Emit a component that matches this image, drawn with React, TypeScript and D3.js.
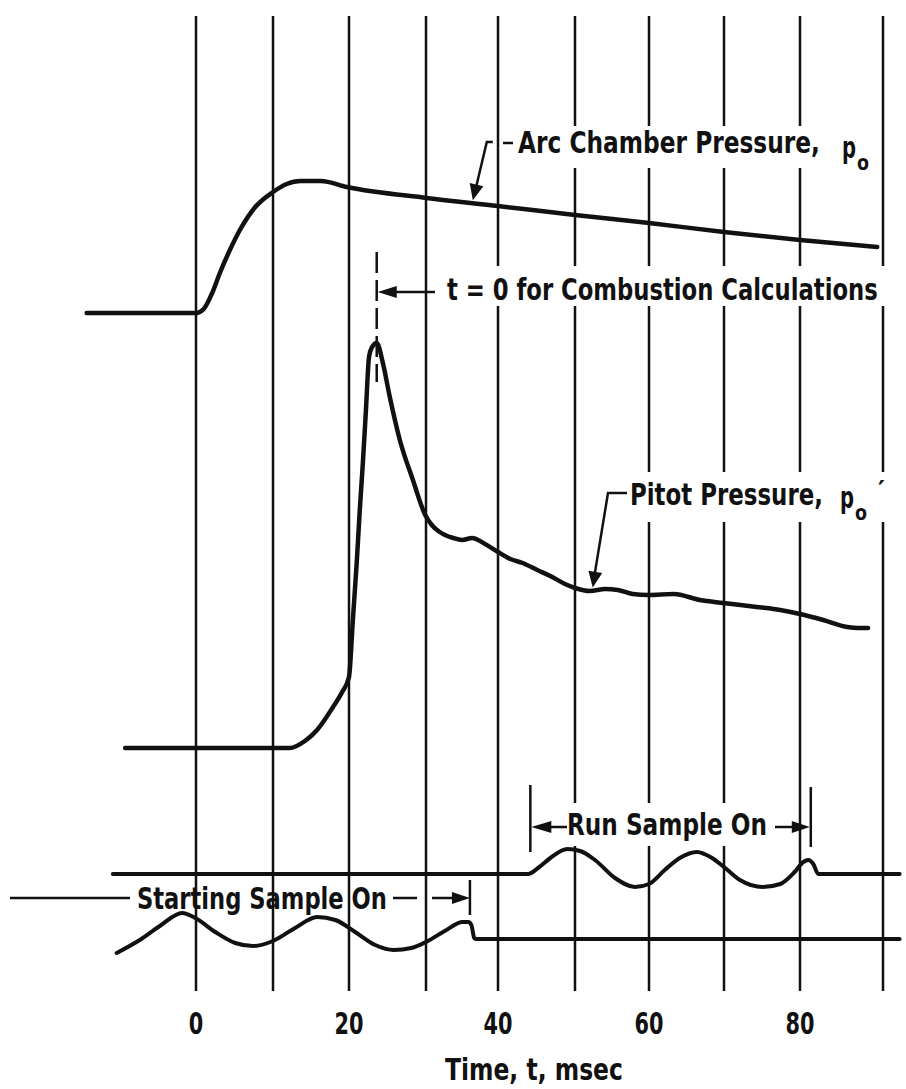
import React, { useLayoutEffect, useRef, useState } from 'react';
import * as d3 from 'd3';

// ---- data (t in msec, signal in relative trace units) ----
const gridTicks = [0, 10, 20, 30, 40, 50, 60, 70, 80, 90];
const tickLabels = [0, 20, 40, 60, 80];
const axisTitle = 'Time, t, msec';

const arcChamber: [number, number][] = [
  [-14.2, 68.7], [0, 68.7], [1.0, 69.1], [2.1, 70.7], [3.1, 72.7], [4.4, 75.0],
  [5.7, 77.0], [7.7, 79.3], [10.0, 80.8], [11.8, 81.6], [13.6, 81.9], [16.3, 81.9],
  [19.7, 81.3], [30.1, 80.2], [40.0, 79.4], [50.0, 78.5], [60.0, 77.7], [70.0, 76.8],
  [80.0, 76.0], [89.3, 75.3],
];

const pitot: [number, number][] = [
  [-9.2, 25.2], [12.2, 25.2], [14.2, 25.9], [15.8, 27.0], [17.9, 29.3], [19.1, 30.8],
  [20.0, 32.3], [20.5, 38.0], [21.0, 43.7], [21.4, 49.0], [21.8, 53.7], [22.2, 59.0],
  [22.6, 64.3], [23.0, 65.3], [23.6, 65.7], [24.4, 63.7], [25.3, 60.3], [26.6, 56.0],
  [28.3, 52.0], [29.9, 48.5], [30.8, 47.5], [31.9, 46.8], [33.8, 46.2], [35.0, 46.0],
  [36.4, 46.2], [38.2, 45.6], [40.0, 44.8], [41.6, 44.1], [43.2, 43.7], [45.1, 43.0],
  [46.8, 42.4], [48.7, 41.6], [50.0, 41.2], [52.0, 40.9], [54.1, 41.1], [55.8, 41.0],
  [57.8, 40.6], [59.9, 40.5], [63.3, 40.6], [66.8, 40.0], [69.9, 39.7], [74.3, 39.3],
  [77.4, 39.0], [80.0, 38.6], [82.8, 38.0], [85.7, 37.3], [87.0, 37.2], [88.2, 37.2],
];

const runSample: [number, number][] = [
  [-10.8, 12.6], [43.9, 12.6], [45.2, 13.2], [46.8, 14.2], [49.0, 15.1], [50.7, 14.9],
  [52.7, 14.0], [55.4, 12.2], [58.1, 11.3], [60.0, 11.6], [62.1, 13.0], [64.1, 14.2],
  [66.4, 14.8], [68.4, 14.2], [70.0, 13.3], [72.1, 12.0], [75.1, 11.3], [77.4, 11.6],
  [79.3, 12.8], [80.4, 13.8], [81.0, 14.0], [81.6, 13.6], [82.2, 12.6], [92.0, 12.6],
];

const startingSample: [number, number][] = [
  [-10.3, 4.7], [-7.3, 6.0], [-4.7, 7.4], [-1.8, 8.7], [-0.1, 8.2], [2.5, 6.8],
  [5.1, 5.7], [7.4, 5.4], [10.0, 5.9], [12.9, 7.2], [15.8, 8.3], [18.2, 8.0],
  [20.8, 6.8], [23.4, 5.5], [25.8, 5.0], [28.1, 5.2], [30.0, 5.8], [32.6, 6.9],
  [35.1, 7.8], [35.9, 7.8], [36.3, 7.5], [36.7, 6.2], [36.9, 6.1], [92.0, 6.1],
];

const combustionZeroT = 23.6;
const startingSampleEndT = 36.1;
const runSampleStartT = 44.2;
const runSampleEndT = 81.3;
const arcArrowT = 36.5;
const pitotArrowT = 52.4;

const FONT = "'Liberation Sans Narrow', 'DejaVu Sans Condensed', 'Roboto Condensed', 'DejaVu Sans', sans-serif";
const INK = '#111';

function valueAt(series: [number, number][], t: number) {
  const i = d3.bisector((d: [number, number]) => d[0]).right(series, t);
  const a = series[Math.max(0, i - 1)];
  const b = series[Math.min(series.length - 1, i)];
  if (a[0] === b[0]) return a[1];
  return a[1] + ((b[1] - a[1]) * (t - a[0])) / (b[0] - a[0]);
}

function head(tx: number, ty: number, fx: number, fy: number, len: number, half: number) {
  const dx = tx - fx, dy = ty - fy;
  const L = Math.hypot(dx, dy) || 1;
  const ux = dx / L, uy = dy / L;
  const bx = tx - ux * len, by = ty - uy * len;
  return `${tx},${ty} ${bx - uy * half},${by + ux * half} ${bx + uy * half},${by - ux * half}`;
}

// Text squeezed horizontally to a measured width (condensed lettering).
function Label(p: { x: number; y: number; w: number; size: number; children: string }) {
  const ref = useRef<SVGTextElement>(null);
  const [sx, setSx] = useState(1);
  useLayoutEffect(() => {
    if (ref.current) {
      const n = ref.current.getComputedTextLength();
      if (n > 0) setSx(p.w / n);
    }
  }, [p.w, p.size, p.children]);
  return (
    <text ref={ref} transform={`translate(${p.x},${p.y}) scale(${sx},1)`} fontSize={p.size}
      fontFamily={FONT} fontWeight="bold" fill={INK}>{p.children}</text>
  );
}

export default function App() {
  const W = 906, H = 1089;
  const x = d3.scaleLinear().domain(gridTicks).range([196, 273, 349, 426, 498, 575, 649, 724, 800, 883]);
  const y = d3.scaleLinear().domain([0, 100]).range([1000, 0]);
  const line = d3.line<[number, number]>().x(d => x(d[0])).y(d => y(d[1])).curve(d3.curveMonotoneX);

  const arcTipX = x(arcArrowT), arcTipY = y(valueAt(arcChamber, arcArrowT)) - 3;
  const pitTipX = x(pitotArrowT), pitTipY = y(valueAt(pitot, pitotArrowT)) - 3;
  const t0x = x(combustionZeroT);
  const sx = x(startingSampleEndT);
  const rx0 = x(runSampleStartT), rx1 = x(runSampleEndT);

  return (
    <svg width={W} height={H} viewBox={`0 0 ${W} ${H}`}
      style={{ position: 'absolute', left: 0, top: 0, background: '#fff' }}>
      <rect x={0} y={0} width={W} height={H} fill="#fff" />
      {/* grid */}
      {gridTicks.map(t => (
        <line key={t} x1={x(t)} x2={x(t)} y1={16} y2={991} stroke={INK} strokeWidth={2.5} />
      ))}
      {/* white label backgrounds that interrupt the grid */}
      <rect x={500} y={126} width={372} height={42} fill="#fff" />
      <rect x={442} y={266} width={444} height={40} fill="#fff" />
      <rect x={604} y={472} width={288} height={50} fill="#fff" />
      <rect x={565} y={803} width={205} height={43} fill="#fff" />

      {/* traces */}
      <path d={line(arcChamber) || ''} fill="none" stroke={INK} strokeWidth={4.5} strokeLinejoin="round" strokeLinecap="round" />
      <path d={line(pitot) || ''} fill="none" stroke={INK} strokeWidth={4.5} strokeLinejoin="round" strokeLinecap="round" />
      <path d={line(runSample) || ''} fill="none" stroke={INK} strokeWidth={4} strokeLinejoin="round" strokeLinecap="round" />
      <path d={line(startingSample) || ''} fill="none" stroke={INK} strokeWidth={4} strokeLinejoin="round" strokeLinecap="round" />

      {/* arc chamber label */}
      <polyline points={`${arcTipX + 20},142 ${arcTipX + 14},142 ${arcTipX + 3},${arcTipY - 12}`} fill="none" stroke={INK} strokeWidth={2.5} />
      <polygon points={head(arcTipX, arcTipY, arcTipX + 14, 142, 16, 7)} fill={INK} />
      <line x1={503} x2={513} y1={143} y2={143} stroke={INK} strokeWidth={2.5} />
      <Label x={518} y={153} w={302} size={30}>Arc Chamber Pressure,</Label>
      <Label x={842} y={158} w={14} size={30}>p</Label>
      <Label x={857} y={170} w={12} size={22}>o</Label>

      {/* t = 0 marker */}
      <line x1={t0x} x2={t0x} y1={252} y2={382} stroke={INK} strokeWidth={2.5} strokeDasharray="21 7" />
      <line x1={t0x + 14} x2={435} y1={292} y2={292} stroke={INK} strokeWidth={2.5} />
      <polygon points={head(t0x + 1, 292, 435, 292, 19, 6)} fill={INK} />
      <Label x={447} y={300} w={431} size={31}>t = 0 for Combustion Calculations</Label>

      {/* pitot label */}
      <polyline points={`627,493 608,493 ${pitTipX + 2},${pitTipY - 14}`} fill="none" stroke={INK} strokeWidth={2.5} />
      <polygon points={head(pitTipX, pitTipY, 608, 493, 16, 7)} fill={INK} />
      <Label x={630} y={505} w={193} size={30}>Pitot Pressure,</Label>
      <Label x={840} y={508} w={14} size={30}>p</Label>
      <Label x={855} y={520} w={12} size={22}>o</Label>
      <Label x={878} y={498} w={7} size={24}>′</Label>

      {/* starting sample */}
      <line x1={10} x2={130} y1={898} y2={898} stroke={INK} strokeWidth={2.5} />
      <Label x={137} y={909} w={250} size={31}>Starting Sample On</Label>
      <line x1={393} x2={417} y1={898} y2={898} stroke={INK} strokeWidth={2.5} />
      <line x1={432} x2={sx - 12} y1={898} y2={898} stroke={INK} strokeWidth={2.5} />
      <polygon points={head(sx, 898, 432, 898, 18, 6)} fill={INK} />
      <line x1={sx} x2={sx} y1={880} y2={915} stroke={INK} strokeWidth={2.5} />

      {/* run sample */}
      <line x1={rx0} x2={rx0} y1={785} y2={852} stroke={INK} strokeWidth={2.5} />
      <line x1={rx0 + 12} x2={567} y1={827} y2={827} stroke={INK} strokeWidth={2.5} />
      <polygon points={head(rx0 + 1, 827, 567, 827, 20, 6)} fill={INK} />
      <Label x={567} y={835} w={200} size={30}>Run Sample On</Label>
      <line x1={775} x2={rx1 - 12} y1={827} y2={827} stroke={INK} strokeWidth={2.5} />
      <polygon points={head(rx1 - 1, 827, 775, 827, 18, 6)} fill={INK} />
      <line x1={rx1} x2={rx1} y1={787} y2={847} stroke={INK} strokeWidth={2.5} />

      {/* axis labels */}
      {tickLabels.map(t => {
        const w = String(t).length * 14.5;
        return <Label key={t} x={x(t) - w / 2} y={1034} w={w} size={31}>{String(t)}</Label>;
      })}
      <Label x={445} y={1080} w={178} size={30}>{axisTitle}</Label>
    </svg>
  );
}
